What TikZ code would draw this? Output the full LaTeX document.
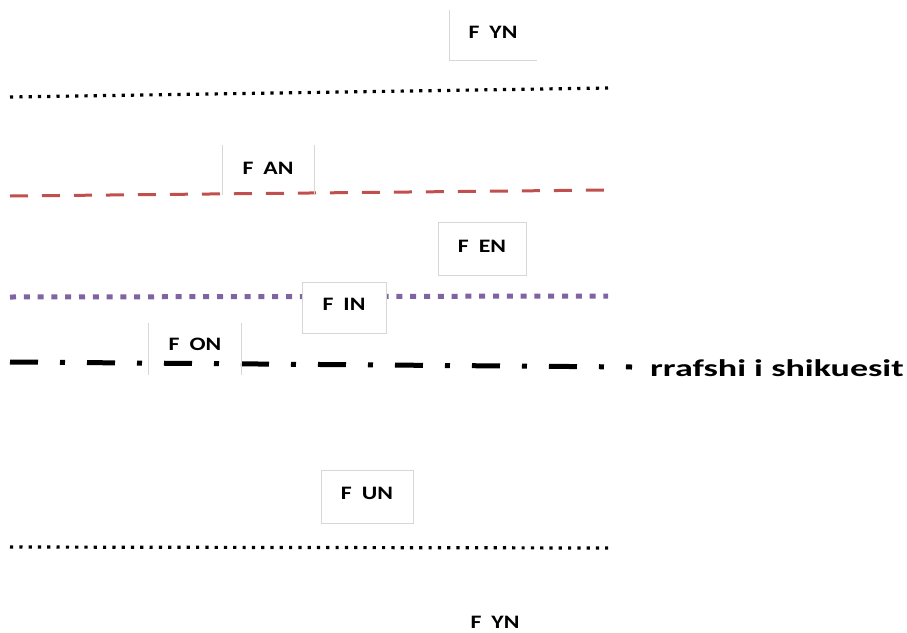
\documentclass[tikz,border=0pt]{standalone}
\usepackage{fontspec}
\newfontfamily\lbl{Carlito}
\definecolor{boxgray}{RGB}{215,215,215}
\definecolor{dred}{RGB}{192,80,77}
\definecolor{dpurple}{RGB}{128,100,162}
\tikzset{
  flabel/.style={font=\lbl\bfseries\fontsize{19}{21}\selectfont, inner sep=0pt},
  boxedge/.style={draw=boxgray, line width=0.8pt},
  blackdots/.style={line width=3.2pt, dash pattern=on 3.2pt off 6.1pt, black},
  reddash/.style={line width=3pt, dash pattern=on 18pt off 14pt, dred},
  purpledots/.style={line width=5pt, dash pattern=on 6pt off 7.8pt, dpurple},
  dashdot/.style={line width=5pt, dash pattern=on 28pt off 22pt on 5pt off 22pt, black},
}
\newcommand{\wide}[1]{\scalebox{1.5}[1]{#1}}
\newcommand{\flab}[2]{\scalebox{1.25}[1]{#1\hspace{8pt}#2}}
\begin{document}
\begin{tikzpicture}[x=1pt,y=-1pt]
\useasboundingbox (0,0) rectangle (907,632);
% lines
\coordinate (l1a) at (10,97); \coordinate (l1b) at (608,88);
\coordinate (l2a) at (10,196); \coordinate (l2b) at (608,190);
\coordinate (l3a) at (10,297); \coordinate (l3b) at (608,296);
\coordinate (l4a) at (10,362); \coordinate (l4b) at (632,367);
\coordinate (l5a) at (10,547); \coordinate (l5b) at (608,548);
\draw[blackdots] (l1a) -- (l1b);
\draw[reddash] (l2a) -- (l2b);
\draw[purpledots] (l3a) -- (l3b);
\draw[dashdot] (l4a) -- (l4b);
\draw[blackdots] (l5a) -- (l5b);
% box edges
\draw[boxedge] (449,10) -- (449,60) -- (537,60);
\draw[boxedge] (222,145) -- (222,195);
\draw[boxedge] (314,145) -- (314,195);
\draw[boxedge] (438,222) rectangle (526,275);
\draw[boxedge, fill=white] (302,282) rectangle (386,333);
\draw[boxedge] (148,323) -- (148,375);
\draw[boxedge] (241,323) -- (241,375);
\draw[boxedge] (321,470) rectangle (413,523);
% labels
\node[flabel] (yn1) at (493,32) {\flab{F}{YN}};
\node[flabel] (an) at (268,168) {\flab{F}{AN}};
\node[flabel] (en) at (482,246) {\flab{F}{EN}};
\node[flabel] (in) at (344,304) {\flab{F}{IN}};
\node[flabel] (on) at (195,344) {\flab{F}{ON}};
\node[flabel] (un) at (367,493) {\flab{F}{UN}};
\node[flabel] (yn2) at (495,622) {\flab{F}{YN}};
\node[font=\lbl\bfseries\fontsize{24}{26}\selectfont, inner sep=0pt, anchor=base west] (plane) at (650,376) {\wide{rrafshi i shikuesit}};
\end{tikzpicture}
\end{document}
